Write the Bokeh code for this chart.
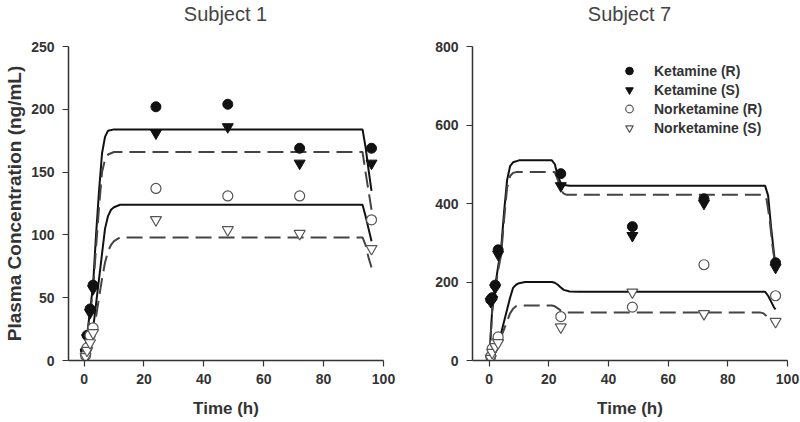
from bokeh.plotting import figure
from bokeh.layouts import row, column
from bokeh.models import Range1d, FixedTicker, Legend, LegendItem, Div
from bokeh.embed import file_html
from bokeh.resources import INLINE

# ---------------- data ----------------
obs_t = [0.5, 1, 2, 3, 24, 48, 72, 96]

# Subject 1 observations
s1_ket_r = [8, 20, 41, 60, 202, 204, 169, 169]
s1_ket_s = [6, 18, 38, 57, 181, 186, 157, 157]
s1_nor_r = [4, 10, 20, 26, 137, 131, 131, 112]
s1_nor_s = [3, 8, 14, 22, 112, 104, 101, 89]

# Subject 7 observations
s7_ket_r = [155, 160, 192, 282, 476, 341, 412, 249]
s7_ket_s = [150, 155, 185, 270, 445, 318, 400, 237]
s7_nor_r = [10, 30, 45, 60, 112, 136, 244, 165]
s7_nor_s = [5, 20, 35, 45, 85, 174, 119, 99]

# Subject 1 model curves
s1_kr_t = [0, 1, 2, 3, 4, 5, 6, 7, 8, 10, 93, 94, 95, 96]
s1_kr_v = [0, 20, 40, 60, 100, 135, 165, 178, 183, 184, 184, 170, 152, 135]
s1_ks_t = [0, 1, 2, 3, 4, 5, 6, 7, 8, 10, 93, 94, 95, 96]
s1_ks_v = [0, 18, 37, 56, 90, 122, 150, 160, 164, 166, 166, 150, 135, 120]
s1_nr_t = [0, 2, 3, 4, 5, 6, 7, 8, 9, 10, 12, 15, 93, 94, 95, 96]
s1_nr_v = [0, 10, 25, 45, 65, 85, 105, 115, 120, 122, 124, 124, 124, 115, 105, 95]
s1_ns_t = [0, 2, 3, 4, 5, 6, 7, 8, 9, 10, 12, 93, 94, 95, 96]
s1_ns_v = [0, 8, 20, 35, 50, 65, 78, 87, 92, 95, 98, 98, 92, 82, 74]

# Subject 7 model curves
s7_kr_t = [0, 1, 2, 3, 4, 5, 6, 7, 8, 10, 21, 22, 23, 24, 25, 27, 92.5, 93.5, 94.5, 95.5, 96]
s7_kr_v = [0, 130, 190, 240, 285, 380, 460, 495, 505, 510, 510, 500, 470, 452, 447, 445, 445, 420, 340, 270, 245]
s7_ks_t = [0, 1, 2, 3, 4, 5, 6, 7, 8, 9, 22, 23, 24, 25, 26, 92, 93, 94, 95, 96]
s7_ks_v = [0, 125, 180, 230, 270, 360, 440, 470, 478, 480, 480, 460, 435, 425, 422, 422, 410, 360, 290, 238]
s7_nr_t = [0, 1, 2, 3, 4, 5, 6, 7, 8, 9, 10, 12, 21, 22, 23, 24, 25, 27, 30, 92.5, 93.5, 94.5, 95.5, 96]
s7_nr_v = [0, 10, 25, 45, 70, 100, 130, 160, 185, 193, 197, 200, 200, 198, 193, 186, 180, 176, 175, 175, 165, 150, 135, 130]
s7_ns_t = [0, 1, 2, 3, 4, 5, 6, 7, 8, 9, 10, 21, 22, 23, 24, 25, 26, 91, 92, 93, 94, 95, 96]
s7_ns_v = [0, 8, 20, 40, 60, 80, 100, 120, 132, 138, 140, 140, 138, 133, 127, 123, 122, 122, 120, 113, 105, 98, 94]

x_ticks = [0, 20, 40, 60, 80, 100]
s1_y_ticks = [0, 50, 100, 150, 200, 250]
s7_y_ticks = [0, 200, 400, 600, 800]
legend_labels = ["Ketamine (R)", "Ketamine (S)", "Norketamine (R)", "Norketamine (S)"]
titles = ["Subject 1", "Subject 7"]

FONT = "Liberation Sans"
TXT = "#333333"
AX = "#333333"
TITLE_H = 28


def make_title(text, left, right):
    return Div(text=text, width=315, height=TITLE_H, margin=(0, right, 0, left),
               styles={"font-family": FONT, "font-size": "20px", "color": "#444444",
                       "text-align": "center", "line-height": "%dpx" % TITLE_H,
                       "white-space": "nowrap"})


def make_fig(width, border_left, border_right, xstart, ymax, yticks, ylabel):
    p = figure(width=width, height=422 - TITLE_H, output_backend="svg", toolbar_location=None,
               x_range=Range1d(xstart, 100), y_range=Range1d(0, ymax),
               min_border_left=border_left, min_border_right=border_right,
               min_border_top=46 - TITLE_H, min_border_bottom=62)
    p.title.visible = False
    p.outline_line_color = None
    p.xgrid.visible = False
    p.ygrid.visible = False
    p.xaxis.ticker = FixedTicker(ticks=x_ticks)
    p.yaxis.ticker = FixedTicker(ticks=yticks)
    for ax in (p.xaxis, p.yaxis):
        ax.axis_line_color = AX
        ax.axis_line_width = 1.5
        ax.major_tick_line_color = AX
        ax.major_tick_line_width = 1.2
        ax.major_tick_out = 6
        ax.major_tick_in = 0
        ax.minor_tick_line_color = None
        ax.major_label_text_font = FONT
        ax.major_label_text_font_style = "bold"
        ax.major_label_text_font_size = "14px"
        ax.major_label_text_color = TXT
        ax.axis_label_text_font = FONT
        ax.axis_label_text_font_style = "bold"
        ax.axis_label_text_font_size = "17px"
        ax.axis_label_text_color = TXT
    p.xaxis.axis_label = "Time (h)"
    p.xaxis.major_label_standoff = 7
    p.xaxis.axis_label_standoff = 12
    if ylabel:
        p.yaxis.axis_label = ylabel
        p.yaxis.axis_label_text_font_size = "19px"
        p.yaxis.axis_label_standoff = 3
    p.yaxis.major_label_standoff = 8
    return p


def draw(p, curves, obs):
    styles = [(None, "#111111"), ("16 7", "#444444"), (None, "#111111"), ("16 7", "#444444")]
    for (t, v), (dash, col) in zip(curves, styles):
        if dash:
            p.line(t, v, line_color=col, line_width=2, line_dash=dash)
        else:
            p.line(t, v, line_color=col, line_width=2)
    r1 = p.scatter(obs_t, obs[0], marker="circle", size=10, fill_color="#111111", line_color="#111111")
    r2 = p.scatter(obs_t, obs[1], marker="inverted_triangle", size=11, fill_color="#111111", line_color="#111111")
    r3 = p.scatter(obs_t, obs[2], marker="circle", size=10, fill_color="white", line_color="#555555", line_width=1.2)
    r4 = p.scatter(obs_t, obs[3], marker="inverted_triangle", size=11, fill_color="white", line_color="#555555", line_width=1.2)
    return [r1, r2, r3, r4]


p1 = make_fig(400, 68, 17, -5.2, 250, s1_y_ticks, "Plasma Concentration (ng/mL)")
draw(p1, [(s1_kr_t, s1_kr_v), (s1_ks_t, s1_ks_v), (s1_nr_t, s1_nr_v), (s1_ns_t, s1_ns_v)],
     [s1_ket_r, s1_ket_s, s1_nor_r, s1_nor_s])

p2 = make_fig(400, 72, 13, -5.6, 800, s7_y_ticks, None)
rs = draw(p2, [(s7_kr_t, s7_kr_v), (s7_ks_t, s7_ks_v), (s7_nr_t, s7_nr_v), (s7_ns_t, s7_ns_v)],
          [s7_ket_r, s7_ket_s, s7_nor_r, s7_nor_s])

legend = Legend(items=[LegendItem(label=l, renderers=[r]) for l, r in zip(legend_labels, rs)],
                location=(147, 223), border_line_color=None, background_fill_alpha=0,
                padding=0, margin=0, spacing=0, glyph_width=20, glyph_height=19,
                label_height=19, label_standoff=15,
                label_text_font=FONT, label_text_font_style="bold",
                label_text_font_size="14px", label_text_color=TXT)
p2.add_layout(legend)

t1 = make_title(titles[0], 68, 17)
t2 = make_title(titles[1], 72, 13)

layout = column(row(t1, t2), row(p1, p2))
open("out.html", "w").write(file_html(layout, INLINE))
